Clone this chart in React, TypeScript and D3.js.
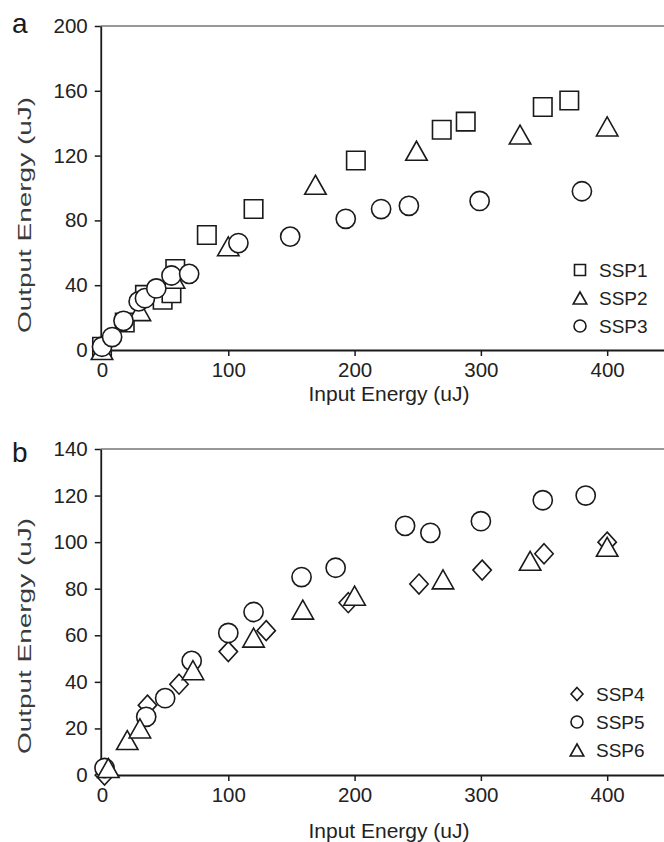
import React, { useEffect, useRef } from "react";
import * as d3 from "d3";

// tick values
const xTicks = [0, 100, 200, 300, 400];
const yTicksA = [0, 40, 80, 120, 160, 200];
const yTicksB = [0, 20, 40, 60, 80, 100, 120, 140];

// panel a
const ssp1X = [0, 18, 34, 48, 55, 58, 83, 120, 201, 269, 288, 349, 370];
const ssp1Y = [2, 17, 34, 31, 35, 50, 71, 87, 117, 136, 141, 150, 154];
const ssp2X = [0, 30, 57, 100, 169, 249, 331, 400];
const ssp2Y = [0, 24, 44, 64, 102, 123, 133, 138];
const ssp3X = [0, 8, 17, 29, 34, 43, 55, 69, 108, 149, 193, 221, 243, 299, 380];
const ssp3Y = [2, 8, 18, 30, 32, 38, 46, 47, 66, 70, 81, 87, 89, 92, 98];

// panel b
const ssp4X = [2, 36, 61, 100, 130, 195, 251, 301, 350, 400];
const ssp4Y = [0, 30, 39, 53, 62, 74, 82, 88, 95, 100];
const ssp5X = [2, 35, 50, 71, 100, 120, 158, 185, 240, 260, 300, 349, 383];
const ssp5Y = [3, 25, 33, 49, 61, 70, 85, 89, 107, 104, 109, 118, 120];
const ssp6X = [5, 20, 30, 72, 120, 159, 200, 270, 339, 400];
const ssp6Y = [3, 15, 20, 45, 59, 71, 77, 84, 92, 98];

const FONT = '"Liberation Sans", Arial, sans-serif';
const INK = "#1a1a1a";

// triangle a bit wider than tall, centred on its box
const triangle = {
  draw(ctx: any, size: number) {
    const h = Math.sqrt(size);
    const w = h * 1.13;
    ctx.moveTo(0, -h / 2);
    ctx.lineTo(w / 2, h / 2);
    ctx.lineTo(-w / 2, h / 2);
    ctx.closePath();
  },
};
const diamond = {
  draw(ctx: any, size: number) {
    const r = Math.sqrt(size) / 2;
    ctx.moveTo(0, -r);
    ctx.lineTo(r * 0.92, 0);
    ctx.lineTo(0, r);
    ctx.lineTo(-r * 0.92, 0);
    ctx.closePath();
  },
};

const shapes: any = {
  square: { type: d3.symbolSquare, size: 18.5 * 18.5, legend: 11 * 11 },
  circle: { type: d3.symbolCircle, size: Math.PI * 9.6 * 9.6, legend: Math.PI * 6 * 6 },
  triangle: { type: triangle, size: 19 * 19, legend: 12 * 12 },
  diamond: { type: diamond, size: 20 * 20, legend: 13 * 13 },
};

let drawPanel = (svg: any, p: any) => {
  let xScale = d3.scaleLinear().domain([-5, 445]).range([95.7, 664]);
  let yScale = d3.scaleLinear().domain([0, p.yMax]).range([p.bottom, p.top]);
  let axisX = xScale(-1);

  let g = svg.append("g");

  // top border
  g.append("line")
    .attr("x1", axisX)
    .attr("x2", 664)
    .attr("y1", yScale(p.yMax))
    .attr("y2", yScale(p.yMax))
    .attr("stroke", "#333")
    .attr("stroke-width", 1.2);

  let xAxis = d3.axisBottom(xScale).tickValues(xTicks).tickSize(6).tickSizeOuter(0).tickPadding(6);
  let gx = g.append("g").attr("transform", "translate(0," + p.bottom + ")").call(xAxis);

  let yAxis = d3.axisLeft(yScale).tickValues(p.yTicks).tickSize(6).tickSizeOuter(0).tickPadding(7);
  let gy = g.append("g").attr("transform", "translate(" + axisX + ",0)").call(yAxis);

  [gx, gy].forEach((a) => {
    a.attr("font-family", FONT).attr("font-size", 20.5);
    a.select(".domain").attr("stroke", INK).attr("stroke-width", 1.8);
    a.selectAll(".tick line").attr("stroke", INK).attr("stroke-width", 1.5);
    a.selectAll(".tick text").attr("fill", "#222");
  });

  // axis titles
  g.append("text")
    .text("Input Energy (uJ)")
    .attr("x", 389)
    .attr("y", p.xTitleY)
    .attr("text-anchor", "middle")
    .attr("font-family", FONT)
    .attr("font-size", 21)
    .attr("fill", "#222");

  g.append("text")
    .text("Output Energy (uJ)")
    .attr("transform", "translate(31," + p.yTitleY + ") rotate(-90)")
    .attr("text-anchor", "middle")
    .attr("font-family", FONT)
    .attr("font-size", 18)
    .attr("textLength", 236)
    .attr("lengthAdjust", "spacingAndGlyphs")
    .attr("fill", "#3a3a3a");

  // panel letter
  g.append("text")
    .text(p.letter)
    .attr("x", 12)
    .attr("y", p.letterY)
    .attr("font-family", FONT)
    .attr("font-size", 28)
    .attr("fill", INK);

  // markers
  p.series.forEach((s: any) => {
    let pts = s.xs.map((x: number, i: number) => [x, s.ys[i]]);
    let sym = d3.symbol().type(shapes[s.shape].type).size(shapes[s.shape].size);
    g.append("g")
      .selectAll("path")
      .data(pts)
      .enter()
      .append("path")
      .attr("d", sym)
      .attr("transform", (d: any) => "translate(" + xScale(d[0]) + "," + yScale(d[1]) + ")")
      .attr("fill", "white")
      .attr("stroke", INK)
      .attr("stroke-width", 1.6);
  });

  // legend
  p.legend.forEach((s: any, i: number) => {
    let ly = p.legendY + i * 28;
    let sym = d3.symbol().type(shapes[s.shape].type).size(shapes[s.shape].legend);
    g.append("path")
      .attr("d", sym)
      .attr("transform", "translate(" + p.legendX + "," + ly + ")")
      .attr("fill", "white")
      .attr("stroke", INK)
      .attr("stroke-width", 1.6);
    g.append("text")
      .text(s.name)
      .attr("x", p.legendX + 19)
      .attr("y", ly)
      .attr("dy", "0.36em")
      .attr("font-family", FONT)
      .attr("font-size", 19)
      .attr("fill", "#222");
  });
};

let App = () => {
  const ref = useRef<SVGSVGElement>(null);

  useEffect(() => {
    let svg = d3.select(ref.current);
    svg.selectAll("*").remove();

    let s1 = { name: "SSP1", xs: ssp1X, ys: ssp1Y, shape: "square" };
    let s2 = { name: "SSP2", xs: ssp2X, ys: ssp2Y, shape: "triangle" };
    let s3 = { name: "SSP3", xs: ssp3X, ys: ssp3Y, shape: "circle" };
    let s4 = { name: "SSP4", xs: ssp4X, ys: ssp4Y, shape: "diamond" };
    let s5 = { name: "SSP5", xs: ssp5X, ys: ssp5Y, shape: "circle" };
    let s6 = { name: "SSP6", xs: ssp6X, ys: ssp6Y, shape: "triangle" };

    drawPanel(svg, {
      top: 26,
      bottom: 350,
      yMax: 200,
      yTicks: yTicksA,
      letter: "a",
      letterY: 33,
      xTitleY: 401,
      yTitleY: 215,
      series: [s1, s2, s3],
      legend: [s1, s2, s3],
      legendX: 580,
      legendY: 270,
    });

    drawPanel(svg, {
      top: 449,
      bottom: 775,
      yMax: 140,
      yTicks: yTicksB,
      letter: "b",
      letterY: 462,
      xTitleY: 838,
      yTitleY: 636,
      series: [s4, s5, s6],
      legend: [s4, s5, s6],
      legendX: 577,
      legendY: 694,
    });
  }, []);

  return (
    <svg
      ref={ref}
      width={664}
      height={842}
      style={{ position: "absolute", left: 0, top: 0, background: "white" }}
    />
  );
};

export default App;
